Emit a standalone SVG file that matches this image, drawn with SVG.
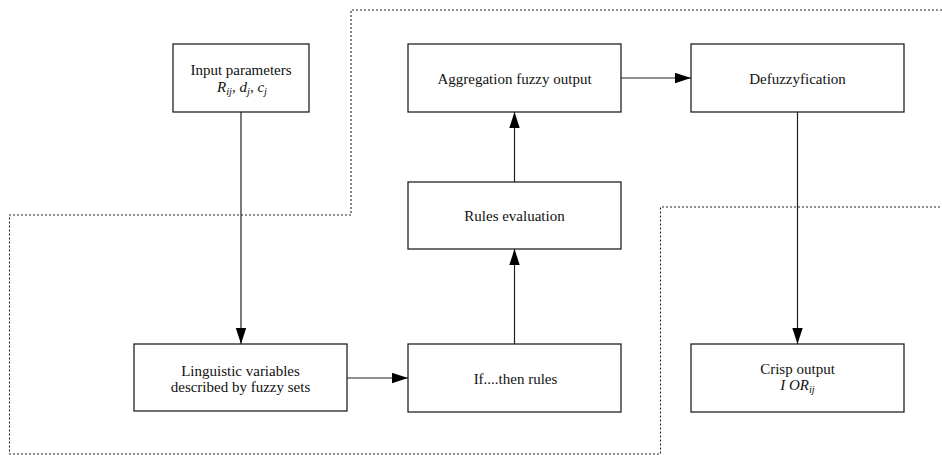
<svg xmlns="http://www.w3.org/2000/svg" width="942" height="455" viewBox="0 0 942 455">
<defs>
<marker id="ah" markerUnits="userSpaceOnUse" markerWidth="16" markerHeight="11" refX="16" refY="5.2" orient="auto">
<path d="M0,0 L16,5.2 L0,10.4 z" fill="#000"/>
</marker>
<style>
text{font-family:'Liberation Serif','Times New Roman','DejaVu Serif',serif;font-size:15px;fill:#111;text-anchor:middle}
.i{font-style:italic}
.s{font-size:10.5px}
.box{fill:#fff;stroke:#222;stroke-width:1.3}
.c{fill:none;stroke:#222;stroke-width:1.2;marker-end:url(#ah)}
.d{fill:none;stroke:#222;stroke-width:1.1;stroke-dasharray:2 2}
</style>
</defs>
<rect width="942" height="455" fill="#fff"/>
<g id="boundary">
<polyline class="d" points="942,10 351,10 351,215 9.5,215 9.5,454 660.5,454 660.5,207 942,207"/>
</g>
<g id="connectors">
<line class="c" x1="241" y1="112" x2="241" y2="344"/>
<line class="c" x1="347" y1="378" x2="408" y2="378"/>
<line class="c" x1="514.5" y1="344" x2="514.5" y2="249"/>
<line class="c" x1="514.5" y1="182" x2="514.5" y2="112"/>
<line class="c" x1="621" y1="78" x2="691" y2="78"/>
<line class="c" x1="797.5" y1="112" x2="797.5" y2="344"/>
</g>
<g font-family="Liberation Serif, Times New Roman, serif">
<g id="input">
<rect class="box" x="173" y="44" width="136" height="68"/>
<text x="241" y="75">Input parameters</text>
<text class="i" x="242" y="92">R<tspan class="s" dy="3">ij</tspan><tspan dy="-3">, d</tspan><tspan class="s" dy="3">j</tspan><tspan dy="-3">, c</tspan><tspan class="s" dy="3">j</tspan></text>
</g>
<g id="aggregation">
<rect class="box" x="408" y="44" width="213" height="68"/>
<text x="514.5" y="84">Aggregation fuzzy output</text>
</g>
<g id="defuzz">
<rect class="box" x="691" y="44" width="213" height="68"/>
<text x="797.5" y="84">Defuzzyfication</text>
</g>
<g id="rules">
<rect class="box" x="408" y="182" width="213" height="67"/>
<text x="514.5" y="221">Rules evaluation</text>
</g>
<g id="linguistic">
<rect class="box" x="134" y="344" width="213" height="67"/>
<text x="240.5" y="375.5">Linguistic variables</text>
<text x="240.5" y="392">described by fuzzy sets</text>
</g>
<g id="ifthen">
<rect class="box" x="408" y="344" width="213" height="68"/>
<text x="515.5" y="383.5">If....then rules</text>
</g>
<g id="crisp">
<rect class="box" x="691" y="344" width="213" height="68"/>
<text x="797.5" y="374">Crisp output</text>
<text class="i" x="797.5" y="390">I OR<tspan class="s" dy="3">ij</tspan></text>
</g>
</g>
</svg>
